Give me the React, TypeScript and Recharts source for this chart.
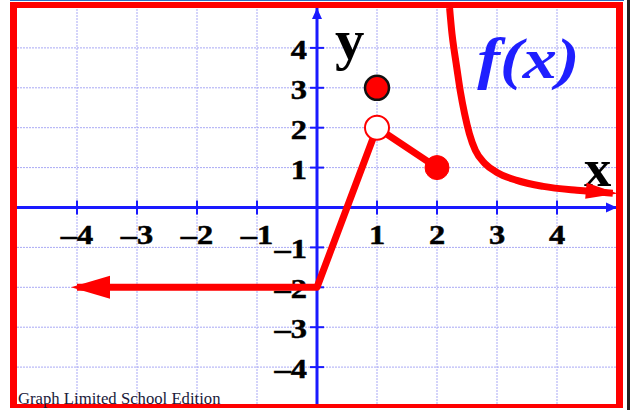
import React from 'react';
import {
  ComposedChart,
  Line,
  Scatter,
  XAxis,
  YAxis,
  ReferenceLine,
  ReferenceDot,
} from 'recharts';

// ---- data ----
const gridTicks = [-4, -3, -2, -1, 1, 2, 3, 4];
const xTickValues = [-4, -3, -2, -1, 1, 2, 3, 4];
const xTickLabels = ['–4', '–3', '–2', '–1', '1', '2', '3', '4'];
const yTickValues = [4, 3, 2, 1, -1, -2, -3, -4];
const yTickLabels = ['4', '3', '2', '1', '–1', '–2', '–3', '–4'];

// piecewise part: ray to the left, then two segments
const pieceX = [-4, 0, 1, 2];
const pieceY = [-2, -2, 2, 1];

// hyperbola-like branch on the right
const curveX = [2.21, 2.25, 2.29, 2.33, 2.39, 2.46, 2.54, 2.64, 2.8, 3.0, 3.33, 3.77, 4.33, 4.93];
const curveY = [5.0, 4.35, 3.9, 3.5, 2.9, 2.35, 1.85, 1.43, 1.1, 0.88, 0.68, 0.53, 0.43, 0.36];

// endpoint markers
const filledOutlinedX = [1];
const filledOutlinedY = [3];
const filledX = [2];
const filledY = [1];
const openX = [1];
const openY = [2];

const piece = pieceX.map((x, i) => ({ x, y: pieceY[i] }));
const curve = curveX.map((x, i) => ({ x, y: curveY[i] }));
const filledOutlined = filledOutlinedX.map((x, i) => ({ x, y: filledOutlinedY[i] }));
const filled = filledX.map((x, i) => ({ x, y: filledY[i] }));
const open = openX.map((x, i) => ({ x, y: openY[i] }));

const RED = '#ff0000';
const BLUE = '#1a1aff';
const SERIF = '"Liberation Serif", "Times New Roman", serif';

const leftArrowDot = (p: any) => {
  const { cx, cy, index } = p;
  if (index !== 0) return <g key={`pd-${index}`} />;
  return (
    <polygon
      key={`pd-${index}`}
      points={`${cx - 6},${cy} ${cx + 33},${cy - 11.5} ${cx + 33},${cy + 11.5}`}
      fill={RED}
    />
  );
};

const rightArrowDot = (p: any) => {
  const { cx, cy, index } = p;
  if (index !== curve.length - 1) return <g key={`cd-${index}`} />;
  return (
    <polygon
      key={`cd-${index}`}
      transform={`rotate(5 ${cx} ${cy})`}
      points={`${cx + 5},${cy} ${cx - 27},${cy - 8} ${cx - 27},${cy + 8}`}
      fill={RED}
    />
  );
};

const labelText = (x: number, y: number, label: string, anchor: string) => (
  <text
    x={0}
    y={0}
    transform={`translate(${x} ${y}) scale(1.2 1)`}
    textAnchor={anchor}
    fontFamily={SERIF}
    fontWeight="bold"
    fontSize={27}
    fill="#000"
    stroke="#000"
    strokeWidth={0.5}
  >
    {label}
  </text>
);

const xTickShape = (label: string) => (p: any) => (
  <g>
    <line x1={p.cx} y1={p.cy - 7} x2={p.cx} y2={p.cy + 7} stroke={BLUE} strokeWidth={2} />
    {labelText(p.cx, p.cy + 36, label, 'middle')}
  </g>
);

const yTickShape = (label: string) => (p: any) => (
  <g>
    <line x1={p.cx - 7} y1={p.cy} x2={p.cx + 7} y2={p.cy} stroke={BLUE} strokeWidth={2} />
    {labelText(p.cx - 10, p.cy + 11, label, 'end')}
  </g>
);

const yArrow = (p: any) => (
  <polygon points={`${p.cx},${p.cy} ${p.cx - 5},${p.cy + 11} ${p.cx + 5},${p.cy + 11}`} fill={BLUE} />
);
const xArrow = (p: any) => (
  <polygon points={`${p.cx},${p.cy} ${p.cx - 11},${p.cy - 5} ${p.cx - 11},${p.cy + 5}`} fill={BLUE} />
);

const textShape = (label: string, size: number, color: string, italic: boolean, sx: number) => (p: any) => (
  <text
    x={0}
    y={0}
    transform={`translate(${p.cx} ${p.cy}) scale(${sx} 1)`}
    fontFamily={SERIF}
    fontWeight="bold"
    fontStyle={italic ? 'italic' : 'normal'}
    fontSize={size}
    fill={color}
  >
    {label}
  </text>
);

const circleShape = (fill: string, stroke: string, sw: number) => (p: any) => (
  <circle cx={p.cx} cy={p.cy} r={12} fill={fill} stroke={stroke} strokeWidth={sw} />
);

export default function App() {
  return (
    <div style={{ position: 'absolute', left: 0, top: 0, width: 630, height: 410, background: '#fff' }}>
      <ComposedChart width={630} height={410} margin={{ top: 8, right: 13, bottom: 3, left: 17 }}>
        <XAxis type="number" dataKey="x" domain={[-5, 5]} hide />
        <YAxis type="number" dataKey="y" domain={[-5, 5]} hide />
        {gridTicks.map((v) => (
          <ReferenceLine key={`gx${v}`} x={v} stroke="#a9a9f5" strokeDasharray="2 1" strokeWidth={1} zIndex={-100} />
        ))}
        {gridTicks.map((v) => (
          <ReferenceLine key={`gy${v}`} y={v} stroke="#a9a9f5" strokeDasharray="2 1" strokeWidth={1} zIndex={-100} />
        ))}
        <ReferenceLine x={0} stroke={BLUE} strokeWidth={3} zIndex={100} />
        <ReferenceLine y={0} stroke={BLUE} strokeWidth={3} zIndex={100} />
        {xTickValues.map((v, i) => (
          <ReferenceDot key={`xt${v}`} x={v} y={0} r={0} shape={xTickShape(xTickLabels[i])} zIndex={150} />
        ))}
        {yTickValues.map((v, i) => (
          <ReferenceDot key={`yt${v}`} x={0} y={v} r={0} shape={yTickShape(yTickLabels[i])} zIndex={150} />
        ))}
        <ReferenceDot x={0} y={5} r={0} shape={yArrow} zIndex={150} />
        <ReferenceDot x={5} y={0} r={0} shape={xArrow} zIndex={150} />
        <ReferenceDot x={0.3} y={3.72} r={0} shape={textShape('y', 56, '#000', false, 1.05)} zIndex={150} />
        <ReferenceDot x={4.45} y={0.55} r={0} shape={textShape('x', 52, '#000', false, 1.05)} zIndex={150} />
        <ReferenceDot x={2.67} y={3.25} r={0} shape={textShape('f(x)', 56, '#1f1fff', true, 1.22)} zIndex={150} />
        <Line
          data={piece}
          dataKey="y"
          type="linear"
          stroke={RED}
          strokeWidth={7}
          strokeLinejoin="round"
          dot={leftArrowDot}
          activeDot={false}
          isAnimationActive={false}
          zIndex={400}
        />
        <Line
          data={curve}
          dataKey="y"
          type="monotone"
          stroke={RED}
          strokeWidth={7}
          dot={rightArrowDot}
          activeDot={false}
          isAnimationActive={false}
          zIndex={400}
        />
        <Scatter data={open} dataKey="y" shape={circleShape('#fff', RED, 2)} isAnimationActive={false} zIndex={600} />
        <Scatter data={filled} dataKey="y" shape={circleShape(RED, RED, 1)} isAnimationActive={false} zIndex={600} />
        <Scatter data={filledOutlined} dataKey="y" shape={circleShape(RED, '#111', 2.5)} isAnimationActive={false} zIndex={600} />
      </ComposedChart>
      {/* frame decorations */}
      <div style={{ position: 'absolute', left: 10, top: 0, width: 614, height: 1, background: '#2a6ec0' }} />
      <div
        style={{
          position: 'absolute',
          left: 10,
          top: 2,
          width: 613,
          height: 406,
          boxSizing: 'border-box',
          borderStyle: 'solid',
          borderColor: RED,
          borderWidth: '6px 7px 4px 7px',
          pointerEvents: 'none',
        }}
      />
      <div style={{ position: 'absolute', left: 627, top: 0, width: 3, height: 410, background: '#222' }} />
      <div
        style={{
          position: 'absolute',
          left: 18,
          top: 389,
          fontFamily: SERIF,
          fontSize: 16.7,
          color: '#1a1a3a',
          whiteSpace: 'nowrap',
          lineHeight: '20px',
        }}
      >
        Graph Limited School Edition
      </div>
    </div>
  );
}
